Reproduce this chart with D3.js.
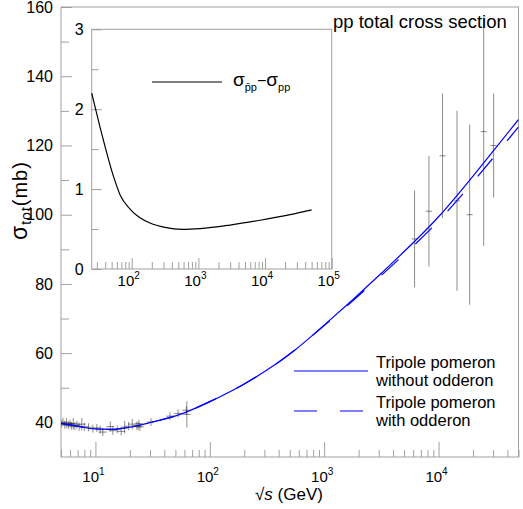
<!DOCTYPE html>
<html>
<head>
<meta charset="utf-8">
<script src="https://cdn.jsdelivr.net/npm/d3@7"></script>
<style>
  body { margin: 0; background: #fff; }
  svg { display: block; font-family: Arial, "Liberation Sans", sans-serif; }
</style>
</head>
<body>
<svg id="chart" width="523" height="509"></svg>
<script>
// model curves, sqrt(s) in GeV, sigma in mb
var energy = [5, 7, 10, 14, 20, 31.6, 55, 100, 200, 316, 560, 1000, 3162, 10000, 31623, 50000];
var sigmaNoOdderon = [39.7, 38.9, 38.1, 38.0, 38.6, 40.1, 42.3, 46.0, 51.1, 55.1, 61.0, 68.1, 83.1, 99.4, 119.3, 127.5];
var sigmaOdderon = [39.7, 38.9, 38.1, 38.0, 38.6, 40.1, 42.3, 46.0, 51.1, 55.1, 61.0, 68.0, 82.5, 98.2, 117.3, 125.4];

// pp data : sqrt(s), sigma, error
var dataE = [5.0, 5.2, 5.4, 5.6, 5.8, 6.0, 6.2, 6.4, 6.6, 6.9, 7.2, 7.6, 8.0, 8.7, 9.5, 10.3, 11.0, 11.6,
  13.5, 14.2, 15.5, 16.8, 18.0, 19.5, 21.0, 23.0, 23.6, 24.0, 24.5, 30.6, 44.9, 52.8, 62.3, 63.0,
  6170, 8240, 10840, 14500, 18700, 24800, 30300];
var dataSigma = [39.6, 40.1, 39.3, 39.8, 39.2, 39.6, 39.0, 39.7, 38.9, 39.3, 38.8, 39.5, 38.7, 38.6, 38.2, 38.4, 37.9, 37.2,
  38.8, 37.6, 38.0, 37.4, 38.6, 38.9, 39.5, 39.1, 38.9, 39.6, 38.7, 40.1, 41.8, 42.6, 43.5, 42.3,
  93.0, 101.0, 117.0, 104.0, 100.0, 124.0, 120.0];
var dataErr = [0.8, 1.2, 0.6, 1.4, 0.5, 1.0, 0.6, 1.6, 0.8, 0.5, 1.2, 1.8, 0.6, 0.8, 0.5, 1.0, 0.6, 1.0,
  1.5, 1.2, 0.8, 1.0, 1.8, 1.2, 1.5, 0.8, 0.5, 1.0, 0.6, 0.3, 0.4, 0.4, 0.6, 3.8,
  14, 16, 18, 26, 26, 33, 15];

// inset : sigma(pbar p) - sigma(pp)
var diffE = [25.1, 33.4, 54.2, 66.7, 94.3, 133, 188, 316, 569, 1062, 2990, 8430, 23800, 50000];
var diffSigma = [2.20, 1.78, 1.14, 0.93, 0.75, 0.64, 0.575, 0.52, 0.495, 0.505, 0.55, 0.61, 0.68, 0.74];

var svg = d3.select("#chart");
var frameColor = "#a0a0a0";
var blue = "#0000ff";

var x = d3.scaleLog().domain([5, 50000]).range([61, 518.5]);
var y = d3.scaleLinear().domain([30, 160]).range([457, 7]);

var xi = d3.scaleLog().domain([25.1, 100000]).range([91.7, 331.7]);
var yi = d3.scaleLinear().domain([0, 3]).range([269, 29.3]);

function isDecade(v) {
  var l = Math.log10(v);
  return Math.abs(l - Math.round(l)) < 1e-9;
}

function cleanAxis(g) {
  g.attr("color", frameColor);
  g.select(".domain").remove();
}

svg.append("defs").append("clipPath").attr("id", "clipMain")
  .append("rect")
    .attr("x", x.range()[0]).attr("y", y.range()[1])
    .attr("width", x.range()[1] - x.range()[0])
    .attr("height", y.range()[0] - y.range()[1]);

// ---- main plot ----
svg.append("rect")
  .attr("x", x.range()[0]).attr("y", y.range()[1])
  .attr("width", x.range()[1] - x.range()[0])
  .attr("height", y.range()[0] - y.range()[1])
  .attr("fill", "none").attr("stroke", frameColor);

var xt = x.ticks();
svg.append("g").attr("transform", "translate(0," + y.range()[0] + ")")
  .call(d3.axisTop(x).tickValues(xt.filter(function(d) { return !isDecade(d); })).tickSize(7).tickFormat(""))
  .call(cleanAxis);
svg.append("g").attr("transform", "translate(0," + y.range()[0] + ")")
  .call(d3.axisTop(x).tickValues(xt.filter(isDecade)).tickSize(15).tickFormat(""))
  .call(cleanAxis);

svg.append("g").attr("transform", "translate(" + x.range()[0] + ",0)")
  .call(d3.axisLeft(y).tickValues([50, 70, 90, 110, 130, 150]).tickSizeInner(-8).tickSizeOuter(0).tickFormat(""))
  .call(cleanAxis);
svg.append("g").attr("transform", "translate(" + x.range()[0] + ",0)")
  .call(d3.axisLeft(y).tickValues([40, 60, 80, 100, 120, 140, 160]).tickSizeInner(-11).tickSizeOuter(0).tickPadding(8))
  .call(cleanAxis)
  .call(function(g) { g.selectAll("text").attr("fill", "#000").attr("font-size", 16); });

svg.append("g").selectAll("text")
  .data(xt.filter(isDecade))
  .join("text")
    .attr("x", function(d) { return x(d) - 2; })
    .attr("y", 482)
    .attr("text-anchor", "middle")
    .attr("font-size", 15)
    .each(function(d) {
      var t = d3.select(this);
      t.append("tspan").text("10");
      t.append("tspan").attr("dy", -7).attr("font-size", 10).text(Math.round(Math.log10(d)));
    });

// axis titles
var xlab = svg.append("text").attr("x", 255).attr("y", 500).attr("font-size", 17);
xlab.append("tspan").text("\u221A");
xlab.append("tspan").attr("font-style", "italic").text("s");
xlab.append("tspan").text(" (GeV)");

var ylab = svg.append("text").attr("transform", "translate(27,240) rotate(-90)").attr("font-size", 20).attr("letter-spacing", 1);
ylab.append("tspan").attr("font-size", 23).text("\u03C3");
ylab.append("tspan").attr("font-size", 14).attr("dy", 4).text("tot");
ylab.append("tspan").attr("dy", -4).text("(mb)");

svg.append("text").attr("x", 333).attr("y", 28).attr("font-size", 18.5).text("pp total cross section");

// data crosses
var points = dataE.map(function(e, i) { return {e: e, s: dataSigma[i], err: dataErr[i]}; });
svg.append("g")
  .attr("clip-path", "url(#clipMain)")
  .attr("stroke", "#000").attr("stroke-opacity", 0.45).attr("fill", "none")
  .selectAll("path")
  .data(points)
  .join("path")
    .attr("d", function(d) {
      var px = x(d.e), py = y(d.s), arm = d.e < 100 ? 4 : 3;
      var top = Math.min(y(d.s + d.err), py - arm), bot = Math.max(y(d.s - d.err), py + arm);
      return "M" + (px - arm) + "," + py + "H" + (px + arm) + "M" + px + "," + top + "V" + bot;
    });

// model curves
var line = d3.line()
  .x(function(d) { return x(d[0]); })
  .y(function(d) { return y(d[1]); })
  .curve(d3.curveMonotoneX);

var curves = svg.append("g").attr("clip-path", "url(#clipMain)").attr("fill", "none").attr("stroke", blue).attr("stroke-width", 1.2);
curves.append("path").attr("d", line(energy.map(function(e, i) { return [e, sigmaNoOdderon[i]]; })));
curves.append("path").attr("stroke-dasharray", "23,23")
  .attr("d", line(energy.map(function(e, i) { return [e, sigmaOdderon[i]]; })));

// legend
var leg = svg.append("g").attr("font-size", 16.5);
leg.append("line").attr("x1", 294).attr("x2", 368).attr("y1", 371).attr("y2", 371).attr("stroke", blue).attr("stroke-width", 1.2);
leg.append("line").attr("x1", 294).attr("x2", 363).attr("y1", 411).attr("y2", 411).attr("stroke", blue).attr("stroke-width", 1.2).attr("stroke-dasharray", "23,23");
leg.append("text").attr("x", 376).attr("y", 368).text("Tripole pomeron");
leg.append("text").attr("x", 376).attr("y", 385.5).text("without odderon");
leg.append("text").attr("x", 376).attr("y", 408).text("Tripole pomeron");
leg.append("text").attr("x", 376).attr("y", 425.5).text("with odderon");

// ---- inset ----
var inset = svg.append("g");
inset.append("rect")
  .attr("x", xi.range()[0]).attr("y", yi.range()[1])
  .attr("width", xi.range()[1] - xi.range()[0])
  .attr("height", yi.range()[0] - yi.range()[1])
  .attr("fill", "#fff").attr("stroke", frameColor);

var xit = xi.ticks();
inset.append("g").attr("transform", "translate(0," + yi.range()[0] + ")")
  .call(d3.axisTop(xi).tickValues(xit.filter(function(d) { return !isDecade(d); })).tickSize(7).tickFormat(""))
  .call(cleanAxis);
inset.append("g").attr("transform", "translate(0," + yi.range()[0] + ")")
  .call(d3.axisTop(xi).tickValues(xit.filter(isDecade)).tickSize(11).tickFormat(""))
  .call(cleanAxis);
inset.append("g").attr("transform", "translate(" + xi.range()[0] + ",0)")
  .call(d3.axisLeft(yi).tickValues([0.5, 1.5, 2.5]).tickSizeInner(-7).tickSizeOuter(0).tickFormat(""))
  .call(cleanAxis);
inset.append("g").attr("transform", "translate(" + xi.range()[0] + ",0)")
  .call(d3.axisLeft(yi).tickValues([0, 1, 2, 3]).tickSizeInner(-10).tickSizeOuter(0).tickPadding(8).tickFormat(d3.format("d")))
  .call(cleanAxis)
  .call(function(g) { g.selectAll("text").attr("fill", "#000").attr("font-size", 16); });

inset.append("g").selectAll("text")
  .data(xit.filter(isDecade))
  .join("text")
    .attr("x", function(d) { return xi(d) - 3; })
    .attr("y", 286)
    .attr("text-anchor", "middle")
    .attr("font-size", 15)
    .each(function(d) {
      var t = d3.select(this);
      t.append("tspan").text("10");
      t.append("tspan").attr("dy", -7).attr("font-size", 10).text(Math.round(Math.log10(d)));
    });

var lineI = d3.line()
  .x(function(d) { return xi(d[0]); })
  .y(function(d) { return yi(d[1]); })
  .curve(d3.curveMonotoneX);
inset.append("path")
  .attr("d", lineI(diffE.map(function(e, i) { return [e, diffSigma[i]]; })))
  .attr("fill", "none").attr("stroke", "#000").attr("stroke-width", 1.2);

inset.append("line").attr("x1", 152).attr("x2", 222).attr("y1", 82).attr("y2", 82).attr("stroke", "#000").attr("stroke-width", 1.2);
var il = inset.append("text").attr("x", 233).attr("y", 86).attr("font-size", 19);
il.append("tspan").text("\u03C3");
il.append("tspan").attr("font-size", 11).attr("dy", 5).text("p\u0304p");
il.append("tspan").attr("font-size", 16).attr("dy", -5).text("\u2212");
il.append("tspan").text("\u03C3");
il.append("tspan").attr("font-size", 11).attr("dy", 5).text("pp");
</script>
</body>
</html>
